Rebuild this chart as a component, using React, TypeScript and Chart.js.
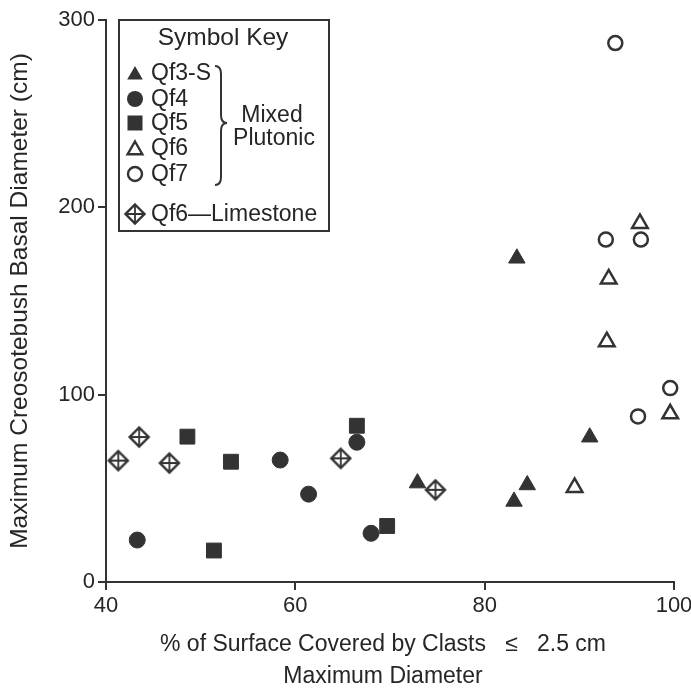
import React, { useEffect, useRef } from 'react';
import { Chart, registerables } from 'chart.js';

Chart.register(...registerables);

// ---- data ----
const xTickValues = [40, 60, 80, 100];
const yTickValues = [0, 100, 200, 300];

const qf3sX = [83.4, 72.9, 84.5, 83.1, 91.1];
const qf3sY = [172.8, 52.8, 51.8, 43, 77.3];

const qf4X = [43.3, 58.4, 61.4, 66.5, 68.0];
const qf4Y = [22.4, 65.1, 46.9, 74.6, 26.0];

const qf5X = [48.6, 53.2, 51.4, 66.5, 69.7];
const qf5Y = [77.6, 64.2, 16.8, 83.4, 29.9];

const qf6X = [96.4, 93.1, 92.9, 99.6, 89.5];
const qf6Y = [191.4, 161.8, 128.3, 89.8, 50.5];

const qf7X = [93.8, 92.8, 96.5, 99.6, 96.2];
const qf7Y = [287.7, 182.8, 182.8, 103.5, 88.4];

const limeX = [41.3, 43.5, 46.7, 64.8, 74.8];
const limeY = [64.8, 77.4, 63.5, 66.0, 49.2];

const legendTitle = 'Symbol Key';
const legendLabels = ['Qf3-S', 'Qf4', 'Qf5', 'Qf6', 'Qf7'];
const braceLabel = ['Mixed', 'Plutonic'];
const limeLabel = 'Qf6\u2014Limestone';
const xTitle = ['% of Surface Covered by Clasts   \u2264   2.5 cm', 'Maximum Diameter'];
const yTitle = 'Maximum Creosotebush Basal Diameter (cm)';

const DARK = '#333333';
const TEXT = '#262626';
const FONT = '"Liberation Sans", Arial, Helvetica, sans-serif';

function pts(xs: number[], ys: number[]) {
  return xs.map((x, i) => ({ x, y: ys[i] }));
}

function makeDiamond(): HTMLCanvasElement {
  const c = document.createElement('canvas');
  c.width = 24;
  c.height = 24;
  const g = c.getContext('2d')!;
  g.strokeStyle = DARK;
  g.fillStyle = '#ffffff';
  g.lineWidth = 2.4;
  g.beginPath();
  g.moveTo(12, 2.5);
  g.lineTo(21.5, 12);
  g.lineTo(12, 21.5);
  g.lineTo(2.5, 12);
  g.closePath();
  g.fill();
  g.stroke();
  g.lineWidth = 1.8;
  g.beginPath();
  g.moveTo(12, 3);
  g.lineTo(12, 21);
  g.moveTo(3, 12);
  g.lineTo(21, 12);
  g.stroke();
  return c;
}

function triPath(ctx: CanvasRenderingContext2D, x: number, y: number, r: number) {
  ctx.beginPath();
  ctx.moveTo(x, y - r);
  ctx.lineTo(x + (Math.sqrt(3) / 2) * r, y + r / 2);
  ctx.lineTo(x - (Math.sqrt(3) / 2) * r, y + r / 2);
  ctx.closePath();
}

export default function App() {
  const ref = useRef<HTMLCanvasElement | null>(null);

  useEffect(() => {
    if (!ref.current) return;
    const diamond = makeDiamond();

    const overlayPlugin = {
      id: 'symbolKey',
      afterDraw(chart: any) {
        const ctx: CanvasRenderingContext2D = chart.ctx;
        ctx.save();

        // x-axis title (two lines)
        ctx.fillStyle = TEXT;
        ctx.font = `23px ${FONT}`;
        ctx.textAlign = 'center';
        ctx.textBaseline = 'alphabetic';
        ctx.fillText(xTitle[0], 383, 651);
        ctx.fillText(xTitle[1], 383, 683);

        // legend box
        ctx.strokeStyle = DARK;
        ctx.lineWidth = 2;
        ctx.strokeRect(119, 20, 210, 211);
        ctx.fillStyle = TEXT;
        ctx.font = `24.5px ${FONT}`;
        ctx.textBaseline = 'middle';
        ctx.textAlign = 'center';
        ctx.fillText(legendTitle, 223, 38);

        const sx = 135;
        const rows = [73, 99, 123, 148, 174];
        const limeRow = 214;
        // symbols
        ctx.fillStyle = DARK;
        ctx.strokeStyle = DARK;
        triPath(ctx, sx, rows[0] + 2, 9);
        ctx.fill();
        ctx.beginPath();
        ctx.arc(sx, rows[1], 8, 0, Math.PI * 2);
        ctx.fill();
        ctx.fillRect(sx - 7.5, rows[2] - 7.5, 15, 15);
        ctx.lineWidth = 2.4;
        triPath(ctx, sx, rows[3] + 2, 8.5);
        ctx.stroke();
        ctx.beginPath();
        ctx.arc(sx, rows[4], 7, 0, Math.PI * 2);
        ctx.stroke();
        ctx.drawImage(diamond, sx - 12, limeRow - 12);

        // labels
        ctx.fillStyle = TEXT;
        ctx.font = `23px ${FONT}`;
        ctx.textAlign = 'left';
        legendLabels.forEach((t, i) => ctx.fillText(t, 151, rows[i] + 1));
        ctx.fillText(limeLabel, 151, limeRow + 1);

        // brace
        ctx.strokeStyle = DARK;
        ctx.lineWidth = 2;
        ctx.beginPath();
        const bx = 215, tx = 227, top = 66, mid = 123, bot = 185;
        ctx.moveTo(bx, top);
        ctx.quadraticCurveTo(bx + 6, top, bx + 6, top + 8);
        ctx.lineTo(bx + 6, mid - 8);
        ctx.quadraticCurveTo(bx + 6, mid, tx, mid);
        ctx.quadraticCurveTo(bx + 6, mid, bx + 6, mid + 8);
        ctx.lineTo(bx + 6, bot - 8);
        ctx.quadraticCurveTo(bx + 6, bot, bx, bot);
        ctx.stroke();

        ctx.textAlign = 'center';
        ctx.fillText(braceLabel[0], 272, 116);
        ctx.fillText(braceLabel[1], 274, 139);
        ctx.restore();
      },
    };

    const chart = new Chart(ref.current, {
      type: 'scatter',
      data: {
        datasets: [
          {
            label: 'Qf3-S',
            data: pts(qf3sX, qf3sY),
            pointStyle: 'triangle',
            pointRadius: 9.5,
            backgroundColor: DARK,
            borderColor: DARK,
            borderWidth: 1,
          },
          {
            label: 'Qf4',
            data: pts(qf4X, qf4Y),
            pointStyle: 'circle',
            pointRadius: 8,
            backgroundColor: DARK,
            borderColor: DARK,
            borderWidth: 1,
          },
          {
            label: 'Qf5',
            data: pts(qf5X, qf5Y),
            pointStyle: 'rect',
            pointRadius: 10.5,
            backgroundColor: DARK,
            borderColor: DARK,
            borderWidth: 1,
          },
          {
            label: 'Qf6',
            data: pts(qf6X, qf6Y),
            pointStyle: 'triangle',
            pointRadius: 9,
            backgroundColor: '#ffffff',
            borderColor: DARK,
            borderWidth: 2.5,
          },
          {
            label: 'Qf7',
            data: pts(qf7X, qf7Y),
            pointStyle: 'circle',
            pointRadius: 7,
            backgroundColor: '#ffffff',
            borderColor: DARK,
            borderWidth: 2.5,
          },
          {
            label: 'Qf6—Limestone',
            data: pts(limeX, limeY),
            pointStyle: diamond as any,
            pointRadius: 10,
            backgroundColor: '#ffffff',
            borderColor: DARK,
            borderWidth: 0,
          },
        ],
      },
      options: {
        responsive: false,
        devicePixelRatio: 1,
        animation: false,
        clip: false as any,
        layout: { padding: { top: 20, right: 17, left: 0, bottom: 0 } },
        plugins: {
          legend: { display: false },
          tooltip: { enabled: false },
        },
        scales: {
          x: {
            type: 'linear',
            min: 40,
            max: 100,
            afterBuildTicks: (s: any) => {
              s.ticks = xTickValues.map((v) => ({ value: v }));
            },
            afterFit: (s: any) => {
              s.height = 108;
              s.paddingLeft = 0;
              s.paddingRight = 0;
            },
            ticks: {
              color: TEXT,
              font: { family: FONT, size: 22 },
              padding: 3,
              maxRotation: 0,
            },
            grid: {
              display: true,
              drawOnChartArea: false,
              drawTicks: true,
              tickLength: 8,
              color: DARK,
              lineWidth: 2,
            },
            border: { display: true, color: DARK, width: 2 },
            title: { display: false },
          },
          y: {
            type: 'linear',
            min: 0,
            max: 300,
            afterBuildTicks: (s: any) => {
              s.ticks = yTickValues.map((v) => ({ value: v }));
            },
            afterFit: (s: any) => {
              s.width = 106;
              s.paddingTop = 0;
              s.paddingBottom = 0;
            },
            ticks: {
              color: TEXT,
              font: { family: FONT, size: 22 },
              padding: 3,
            },
            grid: {
              display: true,
              drawOnChartArea: false,
              drawTicks: true,
              tickLength: 8,
              color: DARK,
              lineWidth: 2,
            },
            border: { display: true, color: DARK, width: 2 },
            title: {
              display: true,
              text: yTitle,
              color: TEXT,
              font: { family: FONT, size: 24.5, lineHeight: 1.2 },
              padding: { top: 6, bottom: 0 },
            },
          },
        },
      },
      plugins: [overlayPlugin],
    });

    return () => chart.destroy();
  }, []);

  return (
    <div style={{ position: 'absolute', left: 0, top: 0, width: 691, height: 690, background: '#fff' }}>
      <canvas ref={ref} width={691} height={690} style={{ display: 'block', width: 691, height: 690 }} />
    </div>
  );
}
